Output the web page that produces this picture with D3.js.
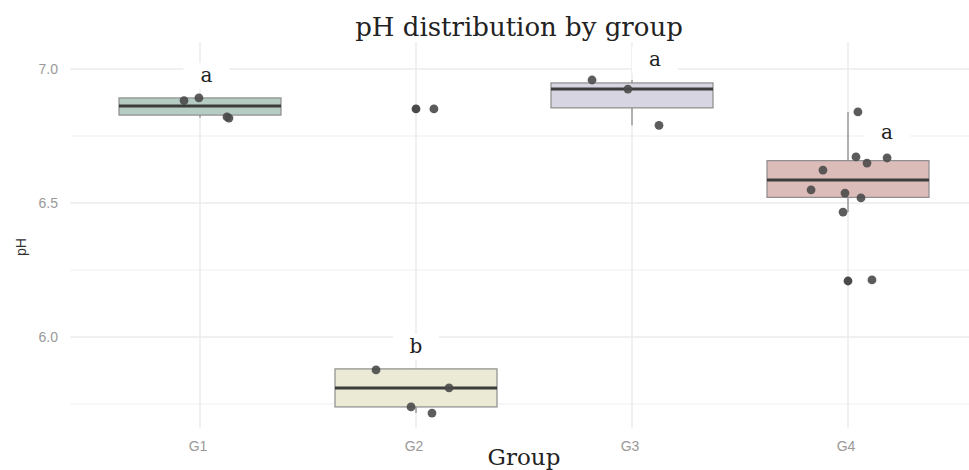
<!DOCTYPE html>
<html>
<head>
<meta charset="utf-8">
<script src="https://cdn.jsdelivr.net/npm/d3@7"></script>
<style>
  body { margin: 0; background: #fff; }
  svg { display: block; }
</style>
</head>
<body>
<div id="chart"></div>
<script>
// groups and box statistics
const groups = ['G1', 'G2', 'G3', 'G4']
const q1 = [6.828, 5.739, 6.855, 6.521]
const medians = [6.862, 5.810, 6.925, 6.586]
const q3 = [6.892, 5.881, 6.948, 6.658]
const whiskerLow = [6.818, 5.716, 6.79, 6.466]
const whiskerHigh = [6.892, 5.881, 6.959, 6.84]
const outliers = [[], [6.851], [], [6.209]]

// jittered observations: value and horizontal jitter (in group units)
const pointValues = [
    [6.882, 6.892, 6.821, 6.817],
    [5.877, 5.810, 5.739, 5.716, 6.851],
    [6.959, 6.925, 6.790],
    [6.840, 6.672, 6.649, 6.668, 6.623, 6.549, 6.537, 6.519, 6.466, 6.213]
]
const pointJitter = [
    [-0.074, -0.005, 0.125, 0.134],
    [-0.185, 0.153, -0.023, 0.074, 0.083],
    [-0.185, -0.019, 0.125],
    [0.046, 0.037, 0.088, 0.181, -0.116, -0.171, -0.014, 0.060, -0.023, 0.111]
]

// significance letters
const letters = ['a', 'b', 'a', 'a']
const letterY = [6.974, 5.963, 7.034, 6.761]
const letterDx = [0.03, 0, 0.106, 0.18]

const yTicks = [6.0, 6.5, 7.0]
const yMinor = [5.75, 6.25, 6.75]

const fills = ['#b5ccc3', '#eaead5', '#d6d5e1', '#dcbcb9']

const width = 969, height = 470

const svg = d3.select('#chart')
    .append('svg')
    .attr('width', width)
    .attr('height', height)

// positions 1..4 with ggplot-like 0.6 expansion
const x = d3.scaleLinear().domain([0.4, 4.6]).range([70.4, 977.6])
const y = d3.scaleLinear().domain([6.0, 7.0]).range([337, 69])
const panelTop = y(7.1), panelBottom = y(5.66)
const boxHalf = 0.375

const grid = svg.append('g')

grid.selectAll('.minor')
    .data(yMinor)
    .enter()
    .append('line')
    .attr('x1', x(0.4)).attr('x2', x(4.6))
    .attr('y1', d => y(d)).attr('y2', d => y(d))
    .attr('stroke', '#f0f0f0')
    .attr('stroke-width', 1.2)

grid.selectAll('.major')
    .data(yTicks)
    .enter()
    .append('line')
    .attr('x1', x(0.4)).attr('x2', x(4.6))
    .attr('y1', d => y(d)).attr('y2', d => y(d))
    .attr('stroke', '#ebebeb')
    .attr('stroke-width', 1.5)

grid.selectAll('.vmajor')
    .data(groups)
    .enter()
    .append('line')
    .attr('x1', (d, i) => x(i + 1)).attr('x2', (d, i) => x(i + 1))
    .attr('y1', panelTop).attr('y2', panelBottom)
    .attr('stroke', '#ebebeb')
    .attr('stroke-width', 1.5)

// axis tick labels
svg.append('g')
    .selectAll('text')
    .data(yTicks)
    .enter()
    .append('text')
    .attr('x', 58)
    .attr('y', d => y(d))
    .attr('dy', '0.35em')
    .attr('text-anchor', 'end')
    .attr('font-family', 'Liberation Sans, Arial, sans-serif')
    .attr('font-size', 14)
    .attr('fill', '#999')
    .text(d => d.toFixed(1))

svg.append('g')
    .selectAll('text')
    .data(groups)
    .enter()
    .append('text')
    .attr('x', (d, i) => x(i + 1) - 2)
    .attr('y', 451)
    .attr('text-anchor', 'middle')
    .attr('font-family', 'Liberation Sans, Arial, sans-serif')
    .attr('font-size', 14)
    .attr('fill', '#999')
    .text(d => d)

// boxplots
const boxes = svg.append('g')
groups.forEach((g, i) => {
    const cx = x(i + 1)
    boxes.append('line')
        .attr('x1', cx).attr('x2', cx)
        .attr('y1', y(q3[i])).attr('y2', y(whiskerHigh[i]))
        .attr('stroke', '#a8a8a8').attr('stroke-width', 1.8)
    boxes.append('line')
        .attr('x1', cx).attr('x2', cx)
        .attr('y1', y(q1[i])).attr('y2', y(whiskerLow[i]))
        .attr('stroke', '#a8a8a8').attr('stroke-width', 1.8)
    boxes.append('rect')
        .attr('x', x(i + 1 - boxHalf))
        .attr('y', y(q3[i]))
        .attr('width', x(i + 1 + boxHalf) - x(i + 1 - boxHalf))
        .attr('height', y(q1[i]) - y(q3[i]))
        .attr('fill', fills[i])
        .attr('stroke', '#8c8c8c')
        .attr('stroke-width', 1.2)
    boxes.append('line')
        .attr('x1', x(i + 1 - boxHalf)).attr('x2', x(i + 1 + boxHalf))
        .attr('y1', y(medians[i])).attr('y2', y(medians[i]))
        .attr('stroke', '#3d3d3d').attr('stroke-width', 3)
    boxes.selectAll('.out' + i)
        .data(outliers[i])
        .enter()
        .append('circle')
        .attr('cx', cx)
        .attr('cy', d => y(d))
        .attr('r', 4.4)
        .attr('fill', '#4a4a4a')
})

// jittered points
const pts = svg.append('g')
groups.forEach((g, i) => {
    pts.selectAll('.pt' + i)
        .data(pointValues[i])
        .enter()
        .append('circle')
        .attr('cx', (d, j) => x(i + 1 + pointJitter[i][j]))
        .attr('cy', d => y(d))
        .attr('r', 4.4)
        .attr('fill', '#4a4a4a')
        .attr('fill-opacity', 0.9)
})

// letter labels with white background
const lab = svg.append('g')
letters.forEach((l, i) => {
    const lx = x(i + 1 + letterDx[i]), ly = y(letterY[i])
    lab.append('rect')
        .attr('x', lx - 23).attr('y', ly - 13)
        .attr('width', 46).attr('height', 26)
        .attr('fill', '#fff')
    lab.append('text')
        .attr('x', lx)
        .attr('y', ly)
        .attr('dy', '0.3em')
        .attr('text-anchor', 'middle')
        .attr('font-family', 'DejaVu Serif, serif')
        .attr('font-size', 20)
        .attr('fill', '#222')
        .text(l)
})

// titles
svg.append('text')
    .attr('x', 519)
    .attr('y', 36)
    .attr('text-anchor', 'middle')
    .attr('font-family', 'DejaVu Serif, serif')
    .attr('font-size', 26)
    .attr('fill', '#222')
    .text('pH distribution by group')

svg.append('text')
    .attr('x', 524)
    .attr('y', 465)
    .attr('text-anchor', 'middle')
    .attr('font-family', 'DejaVu Serif, serif')
    .attr('font-size', 23)
    .attr('fill', '#222')
    .text('Group')

svg.append('text')
    .attr('transform', 'translate(26,247) rotate(-90)')
    .attr('text-anchor', 'middle')
    .attr('font-family', 'Liberation Sans, Arial, sans-serif')
    .attr('font-size', 14)
    .attr('fill', '#333')
    .text('pH')
</script>
</body>
</html>
